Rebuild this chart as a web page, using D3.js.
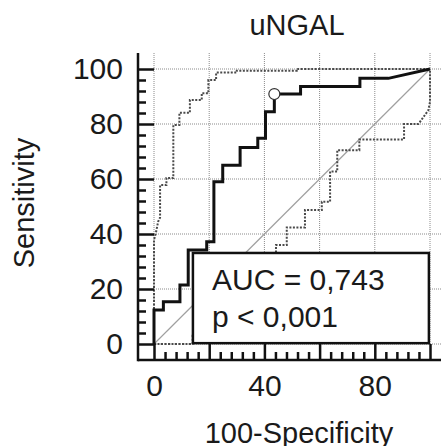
<!DOCTYPE html>
<html>
<head>
<meta charset="utf-8">
<script src="https://cdn.jsdelivr.net/npm/d3@7"></script>
<style>
  body { margin: 0; background: #fff; }
  text { font-family: "Liberation Sans", Arial, sans-serif; fill: #1a1a1a; }
</style>
</head>
<body>
<svg id="chart" width="441" height="446"></svg>
<script>
// ROC curve vertices (100-Specificity, Sensitivity)
const rocX = [0, 0, 3.4, 3.4, 9.4, 9.4, 12.4, 12.4, 19.1, 19.1, 21.7, 21.7, 24.9, 24.9, 31.2, 31.2, 37.6, 37.6, 40.4, 40.4, 43.6, 43.6, 53.1, 53.1, 74.6, 74.6, 84.9, 100];
const rocY = [0, 12.4, 12.4, 15.4, 15.4, 21.5, 21.5, 34.2, 34.2, 37.2, 37.2, 59, 59, 65, 65, 71.5, 71.5, 74.8, 74.8, 84.5, 84.5, 90.9, 90.9, 93.6, 93.6, 96.6, 96.6, 100];

// upper confidence bound
const upX = [0, 0, 0.7, 1.5, 2.2, 2.2, 4.5, 4.5, 7, 7, 9.2, 9.2, 13, 13, 17.3, 17.3, 19.7, 19.7, 22.5, 22.5, 30, 30, 51.7, 51.7, 100];
const upY = [0, 37.8, 40.5, 44.5, 46, 57.8, 57.8, 60.4, 60.4, 79.6, 79.6, 84.1, 84.1, 88.7, 88.7, 91.2, 91.2, 96, 96, 98.7, 98.7, 99.4, 99.4, 100, 100];

// lower confidence bound
const loX = [0, 14, 14, 20, 20, 27, 27, 33, 33, 38, 38, 44.2, 44.2, 48.1, 48.1, 54.7, 54.7, 60.8, 60.8, 63.8, 63.8, 66.4, 66.4, 74.4, 74.4, 90.6, 90.6, 95.8, 99.4, 100, 100];
const loY = [0, 0, 3, 3, 8, 8, 14, 14, 20, 20, 27, 27, 36, 36, 42.4, 42.4, 48.7, 48.7, 51.7, 51.7, 62.7, 62.7, 70.5, 70.5, 74.4, 74.4, 80, 80, 85, 88, 100];

// optimal criterion point
const cutX = [43.6];
const cutY = [90.9];

const majorTicks = [0, 20, 40, 60, 80, 100];
const minorTicks = d3.range(0, 101, 4).filter(d => d % 20 !== 0);

const chartTitle = "uNGAL";
const xTitle = "100-Specificity";
const yTitle = "Sensitivity";
const aucText = ["AUC = 0,743", "p < 0,001"];

const svg = d3.select("#chart");

const x = d3.scaleLinear().domain([0, 100]).range([154, 430]);
const y = d3.scaleLinear().domain([0, 100]).range([344, 69]);

const axisLeftX = 138;
const axisBottomY = 360;
const topY = 53;
const rightX = 441;

// gridlines
const grid = svg.append("g")
  .attr("stroke", "#8a8a8a")
  .attr("stroke-width", 1)
  .attr("stroke-dasharray", "1,1");
grid.selectAll(".gv").data(majorTicks).enter().append("line")
  .attr("x1", d => x(d)).attr("x2", d => x(d))
  .attr("y1", topY).attr("y2", y(0));
grid.selectAll(".gh").data(majorTicks).enter().append("line")
  .attr("x1", x(0)).attr("x2", rightX)
  .attr("y1", d => y(d)).attr("y2", d => y(d));

// diagonal
svg.append("line")
  .attr("x1", x(0)).attr("y1", y(0))
  .attr("x2", x(100)).attr("y2", y(100))
  .attr("stroke", "#a0a0a0")
  .attr("stroke-width", 1.2);

function makeLine(xs, ys) {
  return d3.line()
    .x((d, i) => x(xs[i]))
    .y((d, i) => y(ys[i]))(xs);
}

// confidence bounds
[[upX, upY], [loX, loY]].forEach(function(p) {
  svg.append("path")
    .attr("d", makeLine(p[0], p[1]))
    .attr("fill", "none")
    .attr("stroke", "#4a4a4a")
    .attr("stroke-width", 2)
    .attr("stroke-dasharray", "2,1.5");
});

// ROC curve
svg.append("path")
  .attr("d", makeLine(rocX, rocY))
  .attr("fill", "none")
  .attr("stroke", "#111")
  .attr("stroke-width", 3)
  .attr("stroke-linejoin", "miter");

svg.selectAll(".cut").data(cutX).enter().append("circle")
  .attr("cx", (d, i) => x(cutX[i]))
  .attr("cy", (d, i) => y(cutY[i]))
  .attr("r", 5.5)
  .attr("fill", "#fff")
  .attr("stroke", "#333")
  .attr("stroke-width", 1.2);

// AUC box
svg.append("rect")
  .attr("x", x(14.1))
  .attr("y", y(33.1))
  .attr("width", x(99.6) - x(14.1))
  .attr("height", y(0.3) - y(33.1))
  .attr("fill", "#fff")
  .attr("stroke", "#111")
  .attr("stroke-width", 2.5);

svg.selectAll(".auc").data(aucText).enter().append("text")
  .attr("x", 212)
  .attr("y", (d, i) => 290 + i * 37)
  .attr("font-size", 30)
  .text(d => d);

// axes
const yAxis = svg.append("g")
  .attr("transform", "translate(" + axisLeftX + ",0)")
  .call(d3.axisLeft(y).tickValues(majorTicks).tickSize(-16).tickPadding(15).tickSizeOuter(0));
svg.append("g")
  .attr("transform", "translate(" + axisLeftX + ",0)")
  .call(d3.axisLeft(y).tickValues(minorTicks).tickSize(-8).tickFormat("").tickSizeOuter(0));

const xAxis = svg.append("g")
  .attr("transform", "translate(0," + axisBottomY + ")")
  .call(d3.axisBottom(x).tickValues(majorTicks.filter(d => d % 40 === 0 || d === 0)).tickSize(-16).tickPadding(15).tickSizeOuter(0));
svg.append("g")
  .attr("transform", "translate(0," + axisBottomY + ")")
  .call(d3.axisBottom(x).tickValues(majorTicks.filter(d => d % 40 !== 0)).tickSize(-16).tickFormat("").tickSizeOuter(0));
svg.append("g")
  .attr("transform", "translate(0," + axisBottomY + ")")
  .call(d3.axisBottom(x).tickValues(minorTicks).tickSize(-8).tickFormat("").tickSizeOuter(0));

svg.selectAll(".domain").remove();
svg.selectAll(".tick line").attr("stroke", "#111").attr("stroke-width", 2.5);
svg.selectAll(".tick text").attr("font-size", 30).attr("font-family", "Liberation Sans, Arial, sans-serif").attr("fill", "#1a1a1a");

svg.append("line")
  .attr("x1", axisLeftX).attr("x2", axisLeftX)
  .attr("y1", topY).attr("y2", axisBottomY + 1.25)
  .attr("stroke", "#111").attr("stroke-width", 2.5);
svg.append("line")
  .attr("x1", axisLeftX).attr("x2", rightX)
  .attr("y1", axisBottomY).attr("y2", axisBottomY)
  .attr("stroke", "#111").attr("stroke-width", 2.5);

// titles
svg.append("text")
  .attr("x", 297).attr("y", 35)
  .attr("text-anchor", "middle")
  .attr("font-size", 29)
  .text(chartTitle);

svg.append("text")
  .attr("x", 299).attr("y", 443)
  .attr("text-anchor", "middle")
  .attr("font-size", 29)
  .text(xTitle);

svg.append("text")
  .attr("transform", "translate(34,203) rotate(-90)")
  .attr("text-anchor", "middle")
  .attr("font-size", 29)
  .text(yTitle);
</script>
</body>
</html>
